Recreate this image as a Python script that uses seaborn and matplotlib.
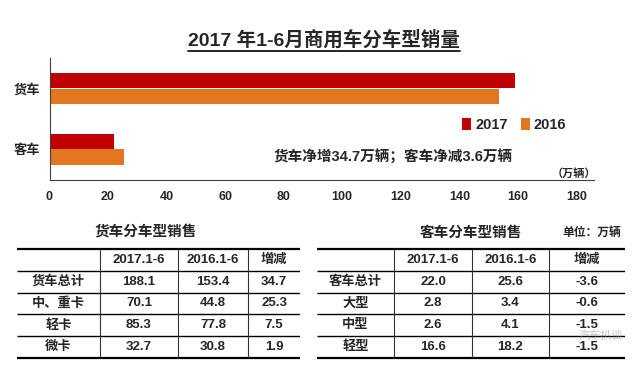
import numpy as np
import pandas as pd
import seaborn as sns
import matplotlib.pyplot as plt
from matplotlib.lines import Line2D

# 柱状图数据 (万辆)
categories = ['货车', '客车']
years = ['2017', '2016']
sales_2017 = [159.0, 22.0]
sales_2016 = [153.4, 25.6]

# 表格数据
table_header = ['2017.1-6', '2016.1-6', '增减']
truck_rows = ['货车总计', '中、重卡', '轻卡', '微卡']
truck_2017 = ['188.1', '70.1', '85.3', '32.7']
truck_2016 = ['153.4', '44.8', '77.8', '30.8']
truck_diff = ['34.7', '25.3', '7.5', '1.9']
bus_rows = ['客车总计', '大型', '中型', '轻型']
bus_2017 = ['22.0', '2.8', '2.6', '16.6']
bus_2016 = ['25.6', '3.4', '4.1', '18.2']
bus_diff = ['-3.6', '-0.6', '-1.5', '-1.5']

RED = '#C00000'
ORANGE = '#E4761F'

sns.set_style('white')
plt.rcParams['font.family'] = ['Liberation Sans', 'Noto Sans CJK SC']
plt.rcParams['font.weight'] = 'bold'

W, H = 640, 368
fig = plt.figure(figsize=(W / 100, H / 100), dpi=100)


def fig_box(x0, y0, x1, y1):
    # 像素坐标 (左上原点) -> figure 坐标
    return [x0 / W, 1 - y1 / H, (x1 - x0) / W, (y1 - y0) / H]


# ---- 柱状图 ----
df = pd.DataFrame({
    '车型': categories * 2,
    '年份': [years[0]] * 2 + [years[1]] * 2,
    '销量': sales_2017 + sales_2016,
})

ax = fig.add_axes(fig_box(49.5, 58, 594, 180))
sns.barplot(data=df, x='销量', y='车型', hue='年份', hue_order=years,
            orient='h', palette=[RED, ORANGE], width=0.52, saturation=1,
            linewidth=0, ax=ax)
ax.set_xlim(0, 186)
ax.set_ylim(1.5, -0.5)
ax.set_xticks(np.arange(0, 181, 20))
ax.set_xlabel('')
ax.set_ylabel('')
for s in ['top', 'right']:
    ax.spines[s].set_visible(False)
for s in ['left', 'bottom']:
    ax.spines[s].set_color('#404040')
    ax.spines[s].set_linewidth(0.8)
ax.tick_params(axis='x', direction='in', length=4, width=0.8, color='#404040',
               pad=8, labelsize=9)
ax.tick_params(axis='y', which='major', length=0, pad=7, labelsize=9.5)
ax.set_yticks([-0.5, 0.5, 1.5], minor=True)
ax.tick_params(axis='y', which='minor', direction='in', length=4, width=0.8,
               color='#404040')
for lab in ax.get_xticklabels() + ax.get_yticklabels():
    lab.set_fontweight('bold')

handles, labels = ax.get_legend_handles_labels()
ax.legend(handles, labels, loc='center left', ncol=2, frameon=False,
          bbox_to_anchor=(462 / W, 1 - 125 / H), bbox_transform=fig.transFigure,
          borderpad=0, borderaxespad=0, handlelength=0.6, handleheight=0.8,
          handletextpad=0.3, columnspacing=0.9,
          prop={'size': 10.5, 'weight': 'bold'})

fig.text(393 / W, 1 - 157 / H, '货车净增34.7万辆；客车净减3.6万辆',
         ha='center', va='center', fontsize=10.5, fontweight='bold')
fig.text(574 / W, 1 - 174 / H, '（万辆）', ha='center', va='center',
         fontsize=8, fontweight='bold')

title = fig.text(324 / W, 1 - 40 / H, '2017 年1-6月商用车分车型销量',
                 ha='center', va='center', fontsize=14, fontweight='bold')


# ---- 表格 ----
def draw_table(x0, col_edges, row_labels, c1, c2, c3):
    tab = fig.add_axes(fig_box(x0, 249, x0 + col_edges[-1], 358))
    tab.set_xlim(0, col_edges[-1])
    tab.set_ylim(5, 0)
    tab.axis('off')
    centers = [(col_edges[i] + col_edges[i + 1]) / 2 for i in range(4)]
    for j, h in enumerate(table_header):
        tab.text(centers[j + 1], 0.5, h, ha='center', va='center',
                 fontsize=9.5, fontweight='bold')
    for i in range(len(row_labels)):
        y = i + 1.5
        tab.text(centers[0], y, row_labels[i], ha='center', va='center',
                 fontsize=9.5, fontweight='bold')
        for j, col in enumerate([c1, c2, c3]):
            tab.text(centers[j + 1], y, col[i], ha='center', va='center',
                     fontsize=9.5, fontweight='bold')
    tab.hlines([0, 5], 0, col_edges[-1], color='black', lw=1.6, clip_on=False)
    tab.hlines([1, 2, 3, 4], 0, col_edges[-1], color='black', lw=1.0)
    tab.vlines(col_edges[1:-1], 0, 5, color='#333333', lw=0.8)
    return tab


draw_table(17, [0, 83, 161, 231, 283], truck_rows, truck_2017, truck_2016, truck_diff)
draw_table(317, [0, 77, 155, 232, 308], bus_rows, bus_2017, bus_2016, bus_diff)

fig.text(146 / W, 1 - 232 / H, '货车分车型销售', ha='center', va='center',
         fontsize=10.5, fontweight='bold')
fig.text(471 / W, 1 - 233 / H, '客车分车型销售', ha='center', va='center',
         fontsize=10.5, fontweight='bold')
fig.text(592 / W, 1 - 233 / H, '单位：万辆', ha='center', va='center',
         fontsize=8.5, fontweight='bold')

# 水印 (放在两行文字之间)
fig.text(601 / W, 1 - 336 / H, '汽车扒谈', ha='center', va='center',
         fontsize=8, fontweight='normal', color='#9a9a9a', alpha=0.6)

# 标题下划线
fig.canvas.draw()
bb = title.get_window_extent()
fig.add_artist(Line2D([bb.x0 / W, bb.x1 / W], [(bb.y0 - 1) / H] * 2,
                      transform=fig.transFigure, color='black', lw=1.2))

fig.savefig('out.png', dpi=100, facecolor='white')
